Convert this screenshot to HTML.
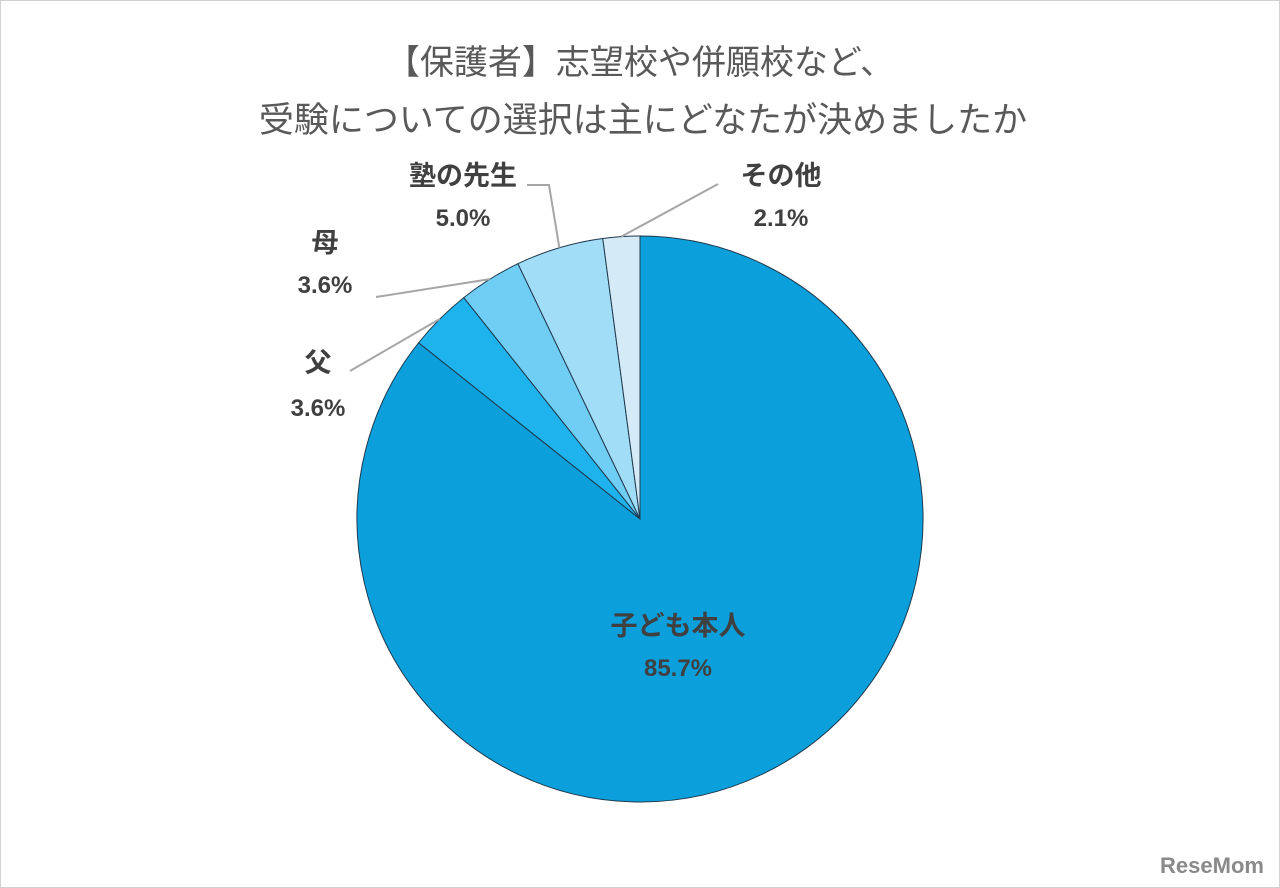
<!DOCTYPE html>
<html><head><meta charset="utf-8"><style>
html,body{margin:0;padding:0;background:#fff}
svg{display:block}
text{font-family:"Liberation Sans","Noto Sans CJK JP",sans-serif}
</style></head><body>
<svg id="chart" width="1280" height="888" viewBox="0 0 1280 888">
<rect x="0.5" y="0.5" width="1279" height="887" fill="#fff" stroke="#d0d0d0"/>
<text x="640" y="74" text-anchor="middle" font-size="34" fill="#595959">【保護者】志望校や併願校など、</text>
<text x="643" y="132" text-anchor="middle" font-size="35" fill="#595959">受験についての選択は主にどなたが決めましたか</text>
<g id="slices"></g>
<g id="labels"></g>
<text x="1212" y="873" text-anchor="middle" font-size="22" font-weight="bold" fill="#8a8a8a">ReseMom</text>
</svg>
<script>
const categories=["子ども本人","父","母","塾の先生","その他"];
const values=[85.7,3.6,3.6,5.0,2.1];
const valueLabels=["85.7%","3.6%","3.6%","5.0%","2.1%"];
const colors=["#0b9fdb","#1fb3ee","#70cdf4","#a2ddf7","#d4ebf7"];
const cx=640,cy=519,r=283;
const ns="http://www.w3.org/2000/svg";
const total=values.reduce((a,b)=>a+b,0);
const sg=document.getElementById('slices');
const lg=document.getElementById('labels');
function pt(a,rad){return [cx+rad*Math.sin(a),cy-rad*Math.cos(a)];}
let a0=0;const mids=[];
values.forEach((v,i)=>{
 const a1=a0+v/total*2*Math.PI;
 const p0=pt(a0,r),p1=pt(a1,r);
 const large=(a1-a0)>Math.PI?1:0;
 const p=document.createElementNS(ns,'path');
 p.setAttribute('d',`M${cx},${cy}L${p0[0]},${p0[1]}A${r},${r} 0 ${large} 1 ${p1[0]},${p1[1]}Z`);
 p.setAttribute('fill',colors[i]);p.setAttribute('stroke','#1f3a4d');p.setAttribute('stroke-width','1');
 
 
 sg.appendChild(p);
 mids.push((a0+a1)/2);a0=a1;
});
const lpos=[[678,635,678,676,null],[318,372,318,416,[[350,371]]],[325,252,325,293,[[376,297]]],[463,185,463,226,[[527,185],[549,185]]],[781,185,781,226,[[718,184]]]];
lpos.forEach((l,i)=>{
 const t1=document.createElementNS(ns,'text');
 t1.setAttribute('x',l[0]);t1.setAttribute('y',l[1]);t1.setAttribute('text-anchor','middle');
 t1.setAttribute('font-size','27');t1.setAttribute('font-weight','bold');t1.setAttribute('fill','#404040');
 t1.textContent=categories[i];
 
 
 lg.appendChild(t1);
 const t2=document.createElementNS(ns,'text');
 t2.setAttribute('x',l[2]);t2.setAttribute('y',l[3]);t2.setAttribute('text-anchor','middle');
 t2.setAttribute('font-size','24');t2.setAttribute('font-weight','bold');t2.setAttribute('fill','#404040');
 t2.textContent=valueLabels[i];
 
 
 lg.appendChild(t2);
 if(l[4]){
  const e=pt(mids[i],r);
  const pts=[...l[4],e];
  const pl=document.createElementNS(ns,'polyline');
  pl.setAttribute('points',pts.map(p=>p.join(',')).join(' '));
  pl.setAttribute('fill','none');pl.setAttribute('stroke','#a6a6a6');pl.setAttribute('stroke-width','2');
  
  
  lg.appendChild(pl);
 }
});
</script>
</body></html>
